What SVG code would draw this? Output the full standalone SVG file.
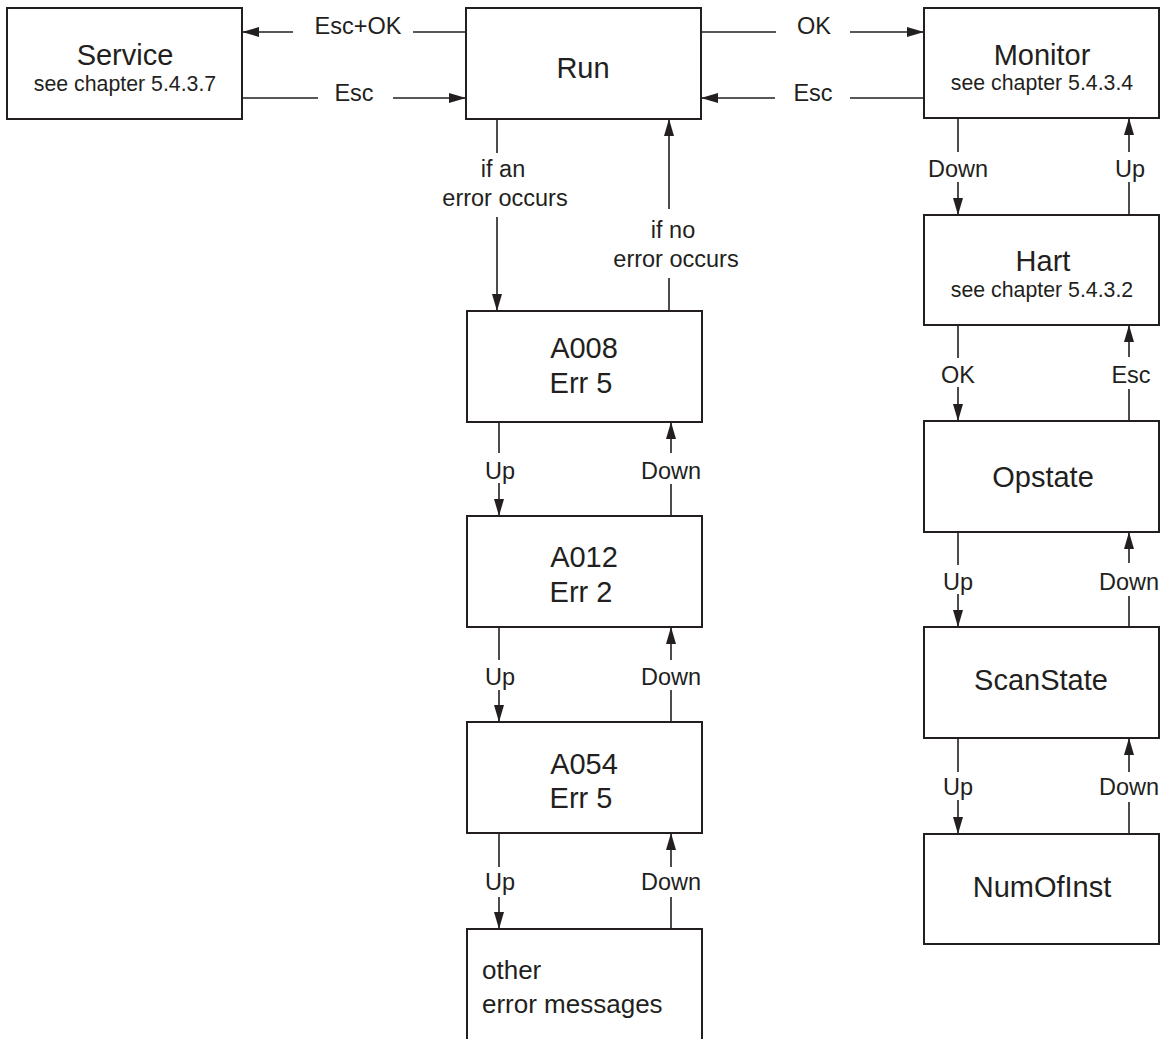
<svg xmlns="http://www.w3.org/2000/svg" width="1163" height="1039" viewBox="0 0 1163 1039">
<defs>
<style>
.box{fill:#fff;stroke:#231f20;stroke-width:2}
.ln{fill:none;stroke:#231f20;stroke-width:1.6}
.arr{marker-end:url(#ah)}
text{font-family:"Liberation Sans",Arial,Helvetica,sans-serif;fill:#231f20}
.t{font-size:29px;text-anchor:middle}
.s{font-size:21.3px;text-anchor:middle}
.l{font-size:23.5px;text-anchor:middle}
</style>
<marker id="ah" markerUnits="userSpaceOnUse" markerWidth="18" markerHeight="10" refX="17" refY="5" orient="auto">
<path d="M0,0 L17,5 L0,10 z" fill="#231f20"/>
</marker>
</defs>
<rect width="1163" height="1039" fill="#fff"/>

<g id="connectors">
<!-- top horizontal -->
<line class="ln" x1="466" y1="32" x2="413" y2="32"/>
<line class="ln arr" x1="293" y1="32" x2="242" y2="32"/>
<text class="l" x="358" y="34">Esc+OK</text>
<line class="ln" x1="242" y1="98" x2="318" y2="98"/>
<line class="ln arr" x1="393" y1="98" x2="466" y2="98"/>
<text class="l" x="354" y="101">Esc</text>
<line class="ln" x1="701" y1="32" x2="776" y2="32"/>
<line class="ln arr" x1="850" y1="32" x2="924" y2="32"/>
<text class="l" x="814" y="34">OK</text>
<line class="ln" x1="924" y1="98" x2="850" y2="98"/>
<line class="ln arr" x1="775" y1="98" x2="701" y2="98"/>
<text class="l" x="813" y="101">Esc</text>

<!-- Run <-> A008 -->
<line class="ln" x1="497" y1="119" x2="497" y2="153"/>
<line class="ln arr" x1="497" y1="217" x2="497" y2="311"/>
<text class="l" x="503" y="177">if an</text>
<text class="l" x="505" y="206">error occurs</text>
<line class="ln" x1="669" y1="311" x2="669" y2="278"/>
<line class="ln arr" x1="669" y1="209" x2="669" y2="119"/>
<text class="l" x="673" y="238">if no</text>
<text class="l" x="676" y="267">error occurs</text>

<!-- A008 <-> A012 -->
<line class="ln" x1="499" y1="422" x2="499" y2="453"/>
<line class="ln arr" x1="499" y1="483" x2="499" y2="516"/>
<text class="l" x="500" y="479">Up</text>
<line class="ln" x1="671" y1="516" x2="671" y2="484"/>
<line class="ln arr" x1="671" y1="453" x2="671" y2="422"/>
<text class="l" x="671" y="479">Down</text>

<!-- A012 <-> A054 -->
<line class="ln" x1="499" y1="627" x2="499" y2="660"/>
<line class="ln arr" x1="499" y1="690" x2="499" y2="722"/>
<text class="l" x="500" y="685">Up</text>
<line class="ln" x1="671" y1="722" x2="671" y2="690"/>
<line class="ln arr" x1="671" y1="660" x2="671" y2="627"/>
<text class="l" x="671" y="685">Down</text>

<!-- A054 <-> other -->
<line class="ln" x1="499" y1="833" x2="499" y2="867"/>
<line class="ln arr" x1="499" y1="897" x2="499" y2="929"/>
<text class="l" x="500" y="890">Up</text>
<line class="ln" x1="671" y1="929" x2="671" y2="897"/>
<line class="ln arr" x1="671" y1="867" x2="671" y2="833"/>
<text class="l" x="671" y="890">Down</text>

<!-- Monitor <-> Hart -->
<line class="ln" x1="958" y1="118" x2="958" y2="152"/>
<line class="ln arr" x1="958" y1="182" x2="958" y2="215"/>
<text class="l" x="958" y="177">Down</text>
<line class="ln" x1="1129" y1="215" x2="1129" y2="182"/>
<line class="ln arr" x1="1129" y1="152" x2="1129" y2="118"/>
<text class="l" x="1130" y="177">Up</text>

<!-- Hart <-> Opstate -->
<line class="ln" x1="958" y1="325" x2="958" y2="358"/>
<line class="ln arr" x1="958" y1="387" x2="958" y2="421"/>
<text class="l" x="958" y="383">OK</text>
<line class="ln" x1="1129" y1="421" x2="1129" y2="389"/>
<line class="ln arr" x1="1129" y1="357" x2="1129" y2="325"/>
<text class="l" x="1131" y="383">Esc</text>

<!-- Opstate <-> ScanState -->
<line class="ln" x1="958" y1="532" x2="958" y2="565"/>
<line class="ln arr" x1="958" y1="594" x2="958" y2="627"/>
<text class="l" x="958" y="590">Up</text>
<line class="ln" x1="1129" y1="627" x2="1129" y2="596"/>
<line class="ln arr" x1="1129" y1="563" x2="1129" y2="532"/>
<text class="l" x="1129" y="590">Down</text>

<!-- ScanState <-> NumOfInst -->
<line class="ln" x1="958" y1="738" x2="958" y2="772"/>
<line class="ln arr" x1="958" y1="800" x2="958" y2="834"/>
<text class="l" x="958" y="795">Up</text>
<line class="ln" x1="1129" y1="834" x2="1129" y2="802"/>
<line class="ln arr" x1="1129" y1="772" x2="1129" y2="738"/>
<text class="l" x="1129" y="795">Down</text>
</g>

<g id="service">
<rect class="box" x="7" y="8" width="235" height="111"/>
<text class="t" x="125" y="65">Service</text>
<text class="s" x="125" y="91">see chapter 5.4.3.7</text>
</g>
<g id="run">
<rect class="box" x="466" y="8" width="235" height="111"/>
<text class="t" x="583" y="78">Run</text>
</g>
<g id="monitor">
<rect class="box" x="924" y="8" width="235" height="110"/>
<text class="t" x="1042" y="65">Monitor</text>
<text class="s" x="1042" y="90">see chapter 5.4.3.4</text>
</g>
<g id="a008">
<rect class="box" x="467" y="311" width="235" height="111"/>
<text class="t" x="584" y="358">A008</text>
<text class="t" x="581" y="393">Err 5</text>
</g>
<g id="a012">
<rect class="box" x="467" y="516" width="235" height="111"/>
<text class="t" x="584" y="567">A012</text>
<text class="t" x="581" y="602">Err 2</text>
</g>
<g id="a054">
<rect class="box" x="467" y="722" width="235" height="111"/>
<text class="t" x="584" y="774">A054</text>
<text class="t" x="581" y="808">Err 5</text>
</g>
<g id="other">
<path class="box" d="M467,1045 V929 H702 V1045"/>
<text x="482" y="979" font-size="26">other</text>
<text x="482" y="1013" font-size="26">error messages</text>
</g>
<g id="hart">
<rect class="box" x="924" y="215" width="235" height="110"/>
<text class="t" x="1043" y="271">Hart</text>
<text class="s" x="1042" y="297">see chapter 5.4.3.2</text>
</g>
<g id="opstate">
<rect class="box" x="924" y="421" width="235" height="111"/>
<text class="t" x="1043" y="487">Opstate</text>
</g>
<g id="scanstate">
<rect class="box" x="924" y="627" width="235" height="111"/>
<text class="t" x="1041" y="690">ScanState</text>
</g>
<g id="numofinst">
<rect class="box" x="924" y="834" width="235" height="110"/>
<text class="t" x="1042" y="897">NumOfInst</text>
</g>
</svg>
